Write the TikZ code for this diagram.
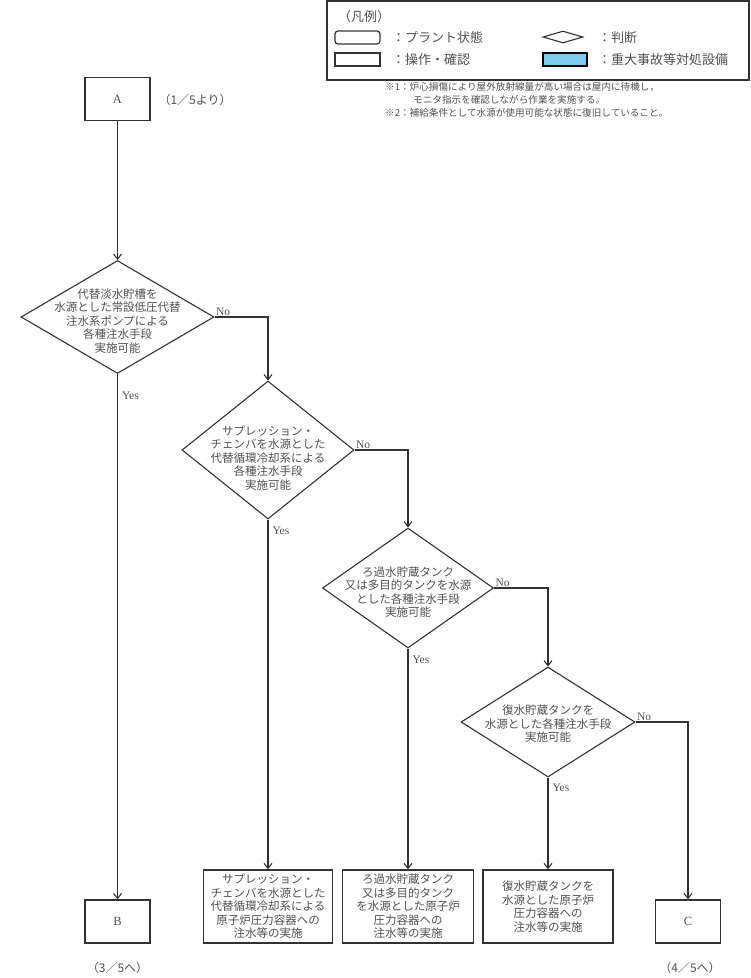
\documentclass[tikz,border=0pt]{standalone}
\usepackage{fontspec}
\setmainfont{Liberation Serif}
\newfontfamily\jpfont{Noto Sans CJK JP}
\usepackage{tikz}
\usetikzlibrary{arrows.meta,shapes.geometric}
\definecolor{flowline}{RGB}{50,50,50}
\definecolor{flowtext}{RGB}{80,80,80}
\definecolor{sablue}{RGB}{125,205,238}

\begin{document}
\begin{tikzpicture}[
  x=1pt,y=-1pt,
  every node/.style={text=flowtext},
  jp/.style={font=\jpfont\fontsize{11.5}{13.5}\selectfont, align=center},
  line/.style={draw=flowline, line width=1.1pt},
  arr/.style={line, -{Straight Barb[length=5pt,width=8pt]}},
  judge/.style={diamond, draw=flowline, line width=1.1pt, inner sep=0pt},
  work/.style={jp, draw=flowline, line width=1.6pt, minimum height=73pt, inner sep=0pt},
  link/.style={draw=flowline, line width=1.4pt, minimum width=65pt, minimum height=43pt,
    font=\fontsize{12.5}{14}\selectfont},
  yn/.style={font=\fontsize{11.5}{13}\selectfont, inner sep=1pt},
  page/.style={font=\jpfont\fontsize{12}{14}\selectfont},
  lg/.style={font=\jpfont\fontsize{13}{15}\selectfont, anchor=west, inner sep=0pt},
  note/.style={font=\jpfont\fontsize{9.6}{11}\selectfont, anchor=west, inner sep=0pt}
]
\useasboundingbox (0,0) rectangle (751,978);

\draw[flowline, line width=1.5pt] (327,1) rectangle (749,80);
\node[lg] (lgtitle) at (338,17) {（凡例）};
\node[draw=flowline, line width=1.2pt, rounded corners=3pt, minimum width=45pt, minimum height=13pt] (lgplant) at (357.5,37.5) {};
\node[lg] (lgplanttxt) at (392,37.5) {：プラント状態};
\node[judge, minimum width=40pt, minimum height=12pt] (lgjudge) at (563,37) {};
\node[lg] (lgjudgetxt) at (598,37.5) {：判断};
\node[draw=flowline, line width=1.2pt, minimum width=45pt, minimum height=13pt] (lgwork) at (357.5,59.5) {};
\node[lg] (lgworktxt) at (392,59.5) {：操作・確認};
\node[draw=black, fill=sablue, line width=2pt, minimum width=44pt, minimum height=13pt] (lgsa) at (565,59.5) {};
\node[lg] (lgsatxt) at (598,59.5) {：重大事故等対処設備};

\node[note] (note1) at (385,87) {※1：炉心損傷により屋外放射線量が高い場合は屋内に待機し，};
\node[note] (note1b) at (413,100) {モニタ指示を確認しながら作業を実施する。};
\node[note] (note2) at (385,113) {※2：補給条件として水源が使用可能な状態に復旧していること。};

\node[link] (a) at (117.5,99) {A};
\node[page, anchor=west] (afrom) at (155,100) {（1／5より）};

\node[judge, minimum width=193pt, minimum height=113pt] (q1) at (117.5,317) {};
\node[jp, yshift=-4pt] (q1txt) at (q1) {代替淡水貯槽を\\水源とした常設低圧代替\\注水系ポンプによる\\各種注水手段\\実施可能};

\node[judge, minimum width=172pt, minimum height=138pt] (q2) at (268,450) {};
\node[jp, yshift=-8pt] (q2txt) at (q2) {サプレッション・\\チェンバを水源とした\\代替循環冷却系による\\各種注水手段\\実施可能};

\node[judge, minimum width=171pt, minimum height=120pt] (q3) at (408,588) {};
\node[jp, yshift=-4pt] (q3txt) at (q3) {ろ過水貯蔵タンク\\又は多目的タンクを水源\\とした各種注水手段\\実施可能};

\node[judge, minimum width=174pt, minimum height=110pt] (q4) at (548,722) {};
\node[jp, yshift=-2pt] (q4txt) at (q4) {復水貯蔵タンクを\\水源とした各種注水手段\\実施可能};

\node[work, minimum width=129pt] (w1) at (268,906.5) {サプレッション・\\チェンバを水源とした\\代替循環冷却系による\\原子炉圧力容器への\\注水等の実施};
\node[work, minimum width=131pt] (w2) at (408,906.5) {ろ過水貯蔵タンク\\又は多目的タンク\\を水源とした原子炉\\圧力容器への\\注水等の実施};
\node[work, minimum width=130pt] (w3) at (548,906.5) {復水貯蔵タンクを\\水源とした原子炉\\圧力容器への\\注水等の実施};

\node[link] (b) at (117.5,921.5) {B};
\node[page] (bto) at (117.5,968) {（3／5へ）};
\node[link] (c) at (688,921.5) {C};
\node[page] (cto) at (690,968) {（4／5へ）};

\draw[arr] (a.south) -- (q1.north);
\draw[arr] (q1.east) node[yn, anchor=south west] (no1) {No} -| (q2.north);
\draw[arr] (q2.east) node[yn, anchor=south west] (no2) {No} -| (q3.north);
\draw[arr] (q3.east) node[yn, anchor=south west] (no3) {No} -| (q4.north);
\draw[arr] (q4.east) node[yn, anchor=south west] (no4) {No} -| (c.north);

\draw[arr] (q1.south) node[yn, anchor=north west, xshift=3pt, yshift=-16pt] (yes1) {Yes} -- (b.north);
\draw[arr] (q2.south) node[yn, anchor=north west, xshift=3pt, yshift=-6pt] (yes2) {Yes} -- (w1.north);
\draw[arr] (q3.south) node[yn, anchor=north west, xshift=3pt, yshift=-6pt] (yes3) {Yes} -- (w2.north);
\draw[arr] (q4.south) node[yn, anchor=north west, xshift=3pt, yshift=-5pt] (yes4) {Yes} -- (w3.north);
\end{tikzpicture}
\end{document}
